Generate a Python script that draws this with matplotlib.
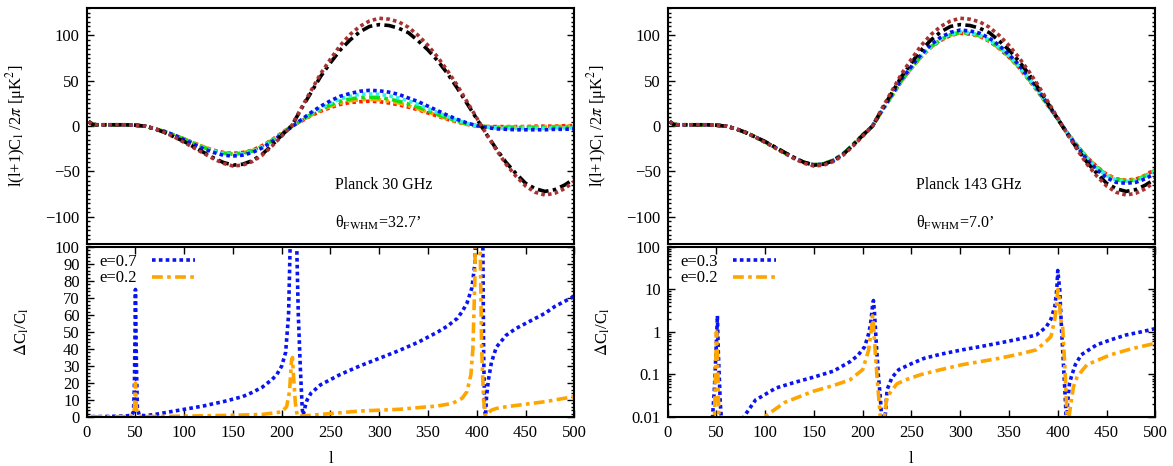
#Power spectra of the Planck 30 GHz and 143 GHz channels and the relative
#deviation Delta C_l / C_l for two values of the eccentricity e

import matplotlib
matplotlib.use('Agg')
import matplotlib.pyplot as plt
from matplotlib.ticker import MultipleLocator, LogLocator, NullFormatter, FixedLocator

plt.rcParams['font.family'] = ['Liberation Serif', 'DejaVu Serif']
plt.rcParams['mathtext.fontset'] = 'stix'
plt.rcParams['font.size'] = 12

# multipoles at which the spectra were tabulated
ell = [2, 6, 10, 20, 30, 40, 50, 60, 70, 80, 90, 100, 110, 120, 130, 140, 150,
       160, 170, 180, 190, 200, 210, 220, 230, 240, 250, 260, 270, 280, 290,
       300, 310, 320, 330, 340, 350, 360, 370, 380, 390, 400, 410, 420, 430,
       440, 450, 460, 470, 480, 490, 500]

# unsmoothed spectra (same in both channels)
cl_brown = [5, 2, 1.5, 1.5, 1.5, 1.5, 1, 0, -3, -7, -12, -18, -24, -30, -36, -41, -44,
            -43, -39, -32, -22, -11, 0, 20, 39, 58, 74, 89, 101, 110, 116,
            119, 118, 115, 109, 100, 89, 76, 61, 45, 27, 9, -9, -26, -42,
            -55, -66, -73, -76, -74, -69, -61]
cl_black = [5, 2, 1.5, 1.5, 1.5, 1.5, 1, 0, -3, -7, -12, -17, -23, -29, -35, -40, -43,
            -42, -38, -31, -21, -10, 0, 19, 37, 55, 70, 84, 95, 104, 110,
            112, 111, 108, 103, 94, 84, 72, 58, 42, 25, 8, -9, -25, -40,
            -52, -63, -69, -72, -70, -65, -58]

# 30 GHz, beam smoothed
cl30_blue = [5, 2, 1.5, 1.5, 1.5, 1.5, 1, 0, -3, -6, -10, -15, -20, -25, -29, -32, -33,
             -32, -29, -24, -17, -9, -1, 7, 15, 22, 28, 33, 36, 38.5, 39.5,
             39, 37.5, 35, 31, 27, 22, 17, 12, 7.5, 3.5, 0.5, -1.5, -3, -3.5,
             -4, -4, -4, -4, -3.5, -3.5, -3]
cl30_cyan = [5, 2, 1.5, 1.5, 1.5, 1.5, 1, 0, -3, -6, -10, -14.5, -19.5, -24, -28, -30.5, -31.5,
             -30.5, -28, -23, -16.5, -8.5, -1, 6.5, 14, 20, 25.5, 30, 33, 35, 35.5,
             35, 33.5, 31, 28, 24, 19.5, 15, 10.5, 6.5, 3, 0.5, -1, -2, -2.5,
             -2.5, -2.5, -2.5, -2.5, -2, -2, -2]
cl30_green = [5, 2, 1.5, 1.5, 1.5, 1.5, 1, 0, -3, -6, -10, -14.5, -19, -23.5, -27.5, -30, -31,
              -30, -27.5, -22.5, -16, -8, -0.5, 6, 13, 18.5, 23.5, 27.5, 30, 31.5, 32,
              31.5, 30, 27.5, 24.5, 21, 17, 13, 9, 5.5, 2.5, 0.5, -0.5, -1.5, -1.5,
              -1.5, -1.5, -1.5, -1.5, -1, -1, -1]
cl30_orange = [5, 2, 1.5, 1.5, 1.5, 1.5, 1, 0, -3, -6, -10, -14, -19, -23, -27, -29.5, -30.5,
               -29.5, -27, -22, -15.5, -8, 0, 6, 12, 17.5, 22, 25.5, 28, 29, 29.5,
               29, 27.5, 25.5, 22.5, 19, 15.5, 12, 8, 5, 2, 0, -0.5, -1, -1,
               -1, -1, -1, -0.5, -0.5, 0, 0]
cl30_red = [5, 2, 1.5, 1.5, 1.5, 1.5, 1, 0, -3, -6, -10, -14, -18.5, -23, -26.5, -29, -30,
            -29, -26.5, -21.5, -15, -7.5, 0, 5.5, 11.5, 16.5, 20.5, 24, 26, 27, 27.5,
            27, 25.5, 23.5, 21, 18, 14.5, 11, 7.5, 4.5, 2, 0, -0.5, -0.5, -0.5,
            -0.5, -0.5, 0, 0, 0, 0.5, 0.5]

# 143 GHz, beam smoothed
cl143_blue = [5, 2, 1.5, 1.5, 1.5, 1.5, 1, 0, -3, -7, -12, -17.5, -23.5, -29.5, -35.5, -40, -43,
              -42, -38, -31, -21, -10, 0, 18, 35, 52, 66, 79, 90, 98, 103.5,
              106, 105, 102.5, 97, 89, 79, 68, 54, 40, 24, 8, -8, -23, -37,
              -48, -57, -62, -63, -62, -58, -52]
cl143_cyan = [5, 2, 1.5, 1.5, 1.5, 1.5, 1, 0, -3, -7, -12, -17.5, -23.5, -29.5, -35.5, -40, -42.5,
              -41.5, -37.5, -30.5, -20.5, -10, 0, 17.5, 34.5, 51, 65, 77.5, 88, 96, 101.5,
              104, 103, 100.5, 95, 87, 77.5, 66.5, 53, 39, 23.5, 8, -8, -22, -35.5,
              -46, -54.5, -59.5, -61, -60, -56, -50]
cl143_green = [5, 2, 1.5, 1.5, 1.5, 1.5, 1, 0, -3, -7, -12, -17.5, -23.5, -29.5, -35, -40, -42.5,
               -41.5, -37.5, -30.5, -20.5, -10, 0, 17.5, 34, 50.5, 64.5, 77, 87.5, 95.5, 101,
               103.5, 102.5, 100, 94.5, 86.5, 77, 66, 52.5, 38.5, 23, 8, -8, -22, -35,
               -45.5, -54, -59, -60.5, -59.5, -55, -49]
cl143_orange = [5, 2, 1.5, 1.5, 1.5, 1.5, 1, 0, -3, -7, -12, -17.5, -23.5, -29.5, -35, -40, -42.5,
                -41.5, -37.5, -30.5, -20.5, -10, 0, 17.5, 34, 50.5, 64.5, 77, 87.5, 95, 100.5,
                103, 102, 99.5, 94, 86, 76.5, 65.5, 52, 38, 23, 8, -8, -21.5, -35,
                -45, -53.5, -58.5, -60, -59, -54.5, -48.5]
cl143_red = [5, 2, 1.5, 1.5, 1.5, 1.5, 1, 0, -3, -7, -12, -17.5, -23.5, -29.5, -35, -40, -42.5,
             -41.5, -37.5, -30.5, -20.5, -10, 0, 17, 33.5, 50, 64, 76.5, 87, 94.5, 100,
             102.5, 101.5, 99, 93.5, 85.5, 76, 65, 51.5, 37.5, 22.5, 8, -8, -21.5, -34.5,
             -44.5, -53, -58, -59.5, -58.5, -54, -48]

# Delta C_l / C_l at 30 GHz
l30_e07 = [5, 20, 40, 46, 48, 49, 50, 51, 52, 54, 60, 70, 80, 90, 100, 110, 120, 130,
           140, 150, 160, 170, 180, 190, 195, 200, 204, 207, 209, 212, 215, 217, 219,
           221, 222, 224, 226, 230, 240, 250, 260, 280, 300, 320, 340, 360, 370, 380,
           385, 390, 395, 398, 400, 403, 406, 407, 408, 409, 410, 412, 415, 420, 430,
           440, 450, 460, 470, 480, 490, 500]
dcl30_e07 = [0.2, 0.3, 0.6, 1, 3, 20, 75, 30, 5, 1, 0.8, 1.5, 2.5, 3.5, 4.5, 5.5, 6.5, 7.8,
             9, 10.5, 12, 14.5, 17.5, 22, 25, 30, 38, 60, 110, 200, 110, 60, 30,
             5, 1, 6, 10, 14, 19, 22, 25, 30, 34.5, 39, 44, 50, 53.5, 58,
             62, 67, 76, 90, 130, 200, 120, 40, 5, 0.5, 12, 22, 32, 41, 48,
             52, 55, 58, 61, 65, 68, 71]
l30_e02 = [5, 40, 47, 49, 50, 51, 53, 60, 100, 150, 180, 200, 205, 208, 210, 211, 212,
           214, 216, 220, 240, 260, 280, 300, 320, 340, 360, 375, 385, 390, 394, 396,
           398, 399, 401, 403, 405, 407, 409, 411, 415, 420, 430, 450, 470, 490, 500]
dcl30_e02 = [0.1, 0.2, 0.5, 5, 20, 5, 0.5, 0.2, 0.5, 1, 1.5, 3, 6, 15, 33, 35, 25,
             8, 0.5, 0.5, 1.5, 2.5, 3.5, 4, 4.5, 5.5, 6.5, 8, 11, 15, 25, 40,
             80, 150, 200, 120, 40, 10, 0.5, 2, 4, 5, 6, 7.5, 9, 11, 12]

# Delta C_l / C_l at 143 GHz
l143_e03 = [5, 40, 46, 48, 50, 51, 52, 54, 56, 70, 78, 90, 100, 111, 130, 150, 170, 187,
            195, 202, 206, 208, 210, 211, 212, 214, 216, 218, 220, 221, 223, 225, 230,
            237, 250, 263, 280, 302, 320, 340, 360, 378, 388, 393, 397, 399, 400, 402,
            404, 406, 408, 409, 410, 412, 414, 418, 424, 440, 454, 470, 485, 500]
dcl143_e03 = [0.001, 0.001, 0.01, 0.05, 0.6, 2.4, 0.3, 0.02, 0.005, 0.004, 0.01, 0.025, 0.034,
              0.048, 0.065, 0.087, 0.12, 0.2, 0.28, 0.45, 0.9, 1.5, 4, 5.5, 3, 0.5,
              0.1, 0.03, 0.006, 0.003, 0.01, 0.044, 0.085, 0.13, 0.18, 0.24, 0.3,
              0.38, 0.45, 0.55, 0.68, 0.85, 1.3, 2, 4, 10, 28, 10, 1, 0.15, 0.02,
              0.005, 0.02, 0.06, 0.09, 0.17, 0.29, 0.5, 0.65, 0.85, 1.0, 1.2]
l143_e02 = [5, 46, 48, 49, 50, 51, 52, 53, 90, 99, 120, 149, 170, 187, 200, 206, 209,
            210, 211, 213, 215, 217, 219, 221, 223, 225, 235, 244, 260, 280, 302, 320,
            340, 360, 378, 388, 393, 397, 399, 400, 401, 403, 405, 407, 409, 410, 412,
            416, 420, 430, 454, 475, 500]
dcl143_e02 = [0.001, 0.001, 0.01, 0.1, 1.0, 0.3, 0.03, 0.005, 0.006, 0.01, 0.022, 0.04,
              0.055, 0.075, 0.13, 0.37, 1.2, 2.4, 1.5, 0.3, 0.07, 0.02, 0.005, 0.004,
              0.015, 0.03, 0.06, 0.075, 0.1, 0.13, 0.17, 0.2, 0.24, 0.3, 0.38, 0.6,
              0.78, 2, 5, 10, 8, 2, 1.3, 0.2, 0.02, 0.005, 0.012, 0.05, 0.09, 0.17,
              0.29, 0.4, 0.54]

dot = (0, (1, 0.9))
dashdot = (0, (3, 1.2, 1, 1.2))

def style_axes(ax):
    for s in ax.spines.values():
        s.set_linewidth(1.5)
    ax.tick_params(which='both', direction='in', left=True, right=True,
                   top=True, bottom=True, labelsize=12, width=1)
    ax.tick_params(which='major', length=5)
    ax.tick_params(which='minor', length=2.5)
    ax.tick_params(axis='y', pad=5)
    ax.tick_params(axis='x', pad=6)

def plot_spectra(ax, curves, title, beam):
    for y, c, ls in curves:
        ax.plot(ell, y, color=c, linestyle=ls, linewidth=2.6)
    ax.set_xlim(0, 500)
    ax.set_ylim(-130, 130)
    style_axes(ax)
    ax.yaxis.set_major_locator(FixedLocator([-100, -50, 0, 50, 100]))
    ax.yaxis.set_minor_locator(MultipleLocator(5))
    ax.tick_params(axis='x', which='both', top=False, bottom=False, labelbottom=False)
    ax.set_ylabel(r'l(l+1)C$_{\rm l}$ /2$\pi$ [μK$^2$]', fontsize=12)
    ax.yaxis.set_label_coords(-0.12, 0.5)
    ax.text(255, -65, title, fontsize=11.5, va='center')
    ax.text(255, -107, r'θ$_{\rm FWHM}$=' + beam, fontsize=11.5, va='center')

def plot_ratio(ax, l1, d1, lab1, l2, d2, lab2):
    ax.plot(l1, d1, color='#0a14f0', linestyle=dot, linewidth=2.6, label=lab1)
    ax.plot(l2, d2, color='#ffa500', linestyle=dashdot, linewidth=2.6, label=lab2)
    ax.set_xlim(0, 500)
    style_axes(ax)
    ax.xaxis.set_major_locator(MultipleLocator(50))
    ax.tick_params(axis='x', which='minor', top=False, bottom=False)
    ax.set_xlabel('l', fontsize=12)
    ax.xaxis.set_label_coords(0.5, -0.2)
    ax.set_ylabel(r'$\Delta$C$_{\rm l}$/C$_{\rm l}$', fontsize=12)
    ax.yaxis.set_label_coords(-0.115, 0.5)
    ax.legend(loc='upper left', bbox_to_anchor=(0.012, 1.0), frameon=False,
              markerfirst=False, fontsize=12, handlelength=2.6, handletextpad=0.9,
              labelspacing=0.05, borderaxespad=0.2, borderpad=0.2)

fig = plt.figure(figsize=(11.73, 4.66), dpi=100)

ax1 = fig.add_axes([0.0739, 0.4764, 0.4157, 0.5058])
ax2 = fig.add_axes([0.5692, 0.4764, 0.4157, 0.5058])
ax3 = fig.add_axes([0.0739, 0.1052, 0.4157, 0.3648])
ax4 = fig.add_axes([0.5692, 0.1052, 0.4157, 0.3648])

plot_spectra(ax1, [(cl30_red, '#ff2000', dot), (cl30_orange, '#ffa500', dashdot),
                   (cl30_green, '#10e010', dashdot), (cl30_cyan, '#30f0f0', dot),
                   (cl30_blue, '#0a14f0', dot), (cl_black, 'black', dashdot),
                   (cl_brown, '#a83232', dot)],
             'Planck 30 GHz', '32.7’')
plot_spectra(ax2, [(cl143_red, '#ff2000', dot), (cl143_orange, '#ffa500', dashdot),
                   (cl143_green, '#10e010', dashdot), (cl143_cyan, '#30f0f0', dot),
                   (cl143_blue, '#0a14f0', dot), (cl_black, 'black', dashdot),
                   (cl_brown, '#a83232', dot)],
             'Planck 143 GHz', '7.0’')

plot_ratio(ax3, l30_e07, dcl30_e07, 'e=0.7', l30_e02, dcl30_e02, 'e=0.2')
ax3.set_ylim(0, 100)
ax3.yaxis.set_major_locator(MultipleLocator(10))
ax3.yaxis.set_minor_locator(MultipleLocator(2))

plot_ratio(ax4, l143_e03, dcl143_e03, 'e=0.3', l143_e02, dcl143_e02, 'e=0.2')
ax4.set_yscale('log')
ax4.set_ylim(0.01, 100)
ax4.yaxis.set_minor_locator(LogLocator(base=10, subs=range(2, 10), numticks=10))
ax4.yaxis.set_minor_formatter(NullFormatter())
ax4.set_yticks([0.01, 0.1, 1, 10, 100])
ax4.set_yticklabels(['0.01', '0.1', '1', '10', '100'])

fig.savefig('out.png', dpi=100)
